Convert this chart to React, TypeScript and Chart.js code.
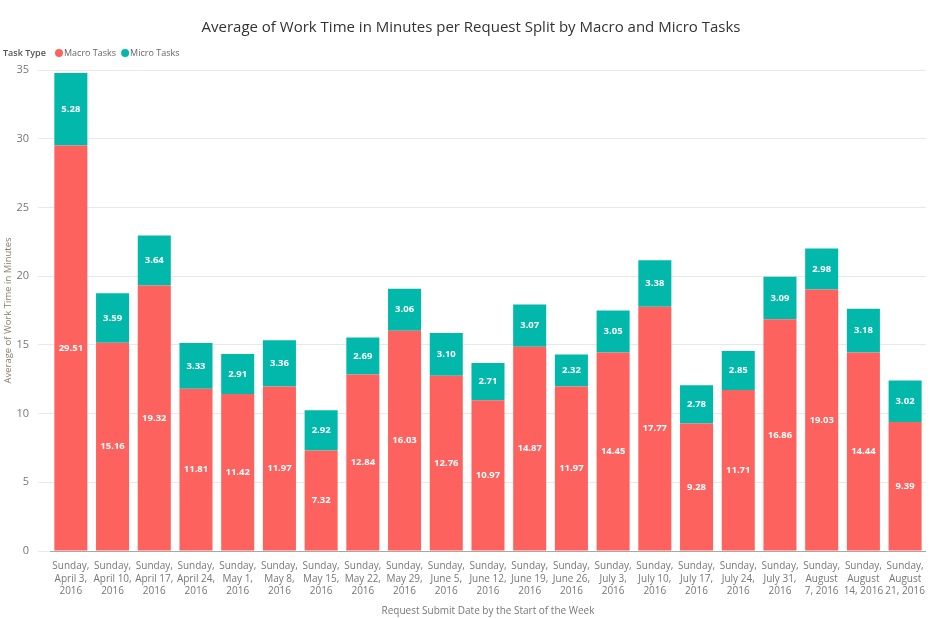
import React, { useEffect, useRef } from "react";
import { Chart, registerables } from "chart.js";

Chart.register(...registerables);

// Week labels (multi-line ticks)
const categories: string[][] = [
  ["Sunday,", "April 3,", "2016"],
  ["Sunday,", "April 10,", "2016"],
  ["Sunday,", "April 17,", "2016"],
  ["Sunday,", "April 24,", "2016"],
  ["Sunday,", "May 1,", "2016"],
  ["Sunday,", "May 8,", "2016"],
  ["Sunday,", "May 15,", "2016"],
  ["Sunday,", "May 22,", "2016"],
  ["Sunday,", "May 29,", "2016"],
  ["Sunday,", "June 5,", "2016"],
  ["Sunday,", "June 12,", "2016"],
  ["Sunday,", "June 19,", "2016"],
  ["Sunday,", "June 26,", "2016"],
  ["Sunday,", "July 3,", "2016"],
  ["Sunday,", "July 10,", "2016"],
  ["Sunday,", "July 17,", "2016"],
  ["Sunday,", "July 24,", "2016"],
  ["Sunday,", "July 31,", "2016"],
  ["Sunday,", "August", "7, 2016"],
  ["Sunday,", "August", "14, 2016"],
  ["Sunday,", "August", "21, 2016"],
];

const macroTasks = [
  29.51, 15.16, 19.32, 11.81, 11.42, 11.97, 7.32, 12.84, 16.03, 12.76, 10.97,
  14.87, 11.97, 14.45, 17.77, 9.28, 11.71, 16.86, 19.03, 14.44, 9.39,
];
const microTasks = [
  5.28, 3.59, 3.64, 3.33, 2.91, 3.36, 2.92, 2.69, 3.06, 3.1, 2.71, 3.07, 2.32,
  3.05, 3.38, 2.78, 2.85, 3.09, 2.98, 3.18, 3.02,
];

const seriesNames = ["Macro Tasks", "Micro Tasks"];
const seriesColors = ["#FD625E", "#01B8AA"];
const yMin = 0;
const yMax = 35;
const yStep = 5;

const titleText =
  "Average of Work Time in Minutes per Request Split by Macro and Micro Tasks";
const legendTitle = "Task Type";
const yTitle = "Average of Work Time in Minutes";
const xTitle = "Request Submit Date by the Start of the Week";

const FONT = "'Segoe UI', 'Open Sans', 'Noto Sans', sans-serif";

// Value labels centred inside every stacked segment
const segmentLabels = {
  id: "segmentLabels",
  afterDatasetsDraw(chart: any) {
    const ctx = chart.ctx;
    ctx.save();
    ctx.fillStyle = "#ffffff";
    ctx.font = `bold 9.5px ${FONT}`;
    ctx.textAlign = "center";
    ctx.textBaseline = "middle";
    chart.data.datasets.forEach((ds: any, di: number) => {
      const meta = chart.getDatasetMeta(di);
      meta.data.forEach((bar: any, i: number) => {
        const { x, y, base } = bar.getProps(["x", "y", "base"], true);
        ctx.fillText(Number(ds.data[i]).toFixed(2), x, (y + base) / 2);
      });
    });
    ctx.restore();
  },
};

// Title and legend row
const header = {
  id: "header",
  afterDraw(chart: any) {
    const ctx = chart.ctx;
    ctx.save();
    ctx.fillStyle = "#333333";
    ctx.font = `15px ${FONT}`;
    ctx.textAlign = "center";
    ctx.textBaseline = "middle";
    ctx.fillText(titleText, 471, 28);

    ctx.textAlign = "left";
    ctx.font = `600 9px ${FONT}`;
    ctx.fillStyle = "#555555";
    ctx.fillText(legendTitle, 3, 53);
    ctx.font = `9px ${FONT}`;
    let x = 55;
    seriesNames.forEach((name, i) => {
      ctx.fillStyle = seriesColors[i];
      ctx.beginPath();
      ctx.arc(x + 4, 53, 4, 0, Math.PI * 2);
      ctx.fill();
      ctx.fillStyle = "#666666";
      ctx.fillText(name, x + 9, 53);
      x += 9 + ctx.measureText(name).width + 5;
    });
    ctx.restore();
  },
};

export default function App() {
  const ref = useRef<HTMLCanvasElement | null>(null);

  useEffect(() => {
    if (!ref.current) return;
    const chart = new Chart(ref.current, {
      type: "bar",
      data: {
        labels: categories,
        datasets: [
          {
            label: seriesNames[0],
            data: macroTasks,
            backgroundColor: seriesColors[0],
            categoryPercentage: 0.8,
            barPercentage: 0.99,
          },
          {
            label: seriesNames[1],
            data: microTasks,
            backgroundColor: seriesColors[1],
            categoryPercentage: 0.8,
            barPercentage: 0.99,
          },
        ],
      },
      options: {
        responsive: false,
        animation: false,
        layout: { padding: { top: 70, right: 6, left: 0, bottom: 0 } },
        plugins: {
          legend: { display: false },
          title: { display: false },
          tooltip: { enabled: false },
        },
        scales: {
          x: {
            stacked: true,
            grid: { display: false, drawTicks: false },
            border: { display: true, color: "#a8a8a8" },
            ticks: {
              color: "#777777",
              font: { family: FONT, size: 10, lineHeight: 1.25 },
              padding: 9,
              maxRotation: 0,
              autoSkip: false,
            },
            title: {
              display: true,
              text: xTitle,
              color: "#777777",
              font: { family: FONT, size: 10 },
              padding: { top: 0, bottom: 1 },
            },
            afterFit(scale: any) {
              scale.height = 67;
            },
          },
          y: {
            stacked: true,
            min: yMin,
            max: yMax,
            grid: {
              color: "#e8e8e8",
              tickLength: 12,
              drawTicks: true,
            },
            border: { display: false },
            ticks: {
              stepSize: yStep,
              color: "#777777",
              font: { family: FONT, size: 11 },
              padding: 9,
            },
            title: {
              display: true,
              text: yTitle,
              color: "#8a7b6e",
              font: { family: FONT, size: 9.5 },
              padding: { top: 3, bottom: 0 },
            },
            afterFit(scale: any) {
              scale.width = 50;
            },
          },
        },
      },
      plugins: [segmentLabels, header],
    });
    return () => chart.destroy();
  }, []);

  return (
    <div style={{ position: "fixed", left: 0, top: 0, width: 934, height: 618, background: "#ffffff" }}>
      <canvas ref={ref} width={934} height={618} />
    </div>
  );
}
